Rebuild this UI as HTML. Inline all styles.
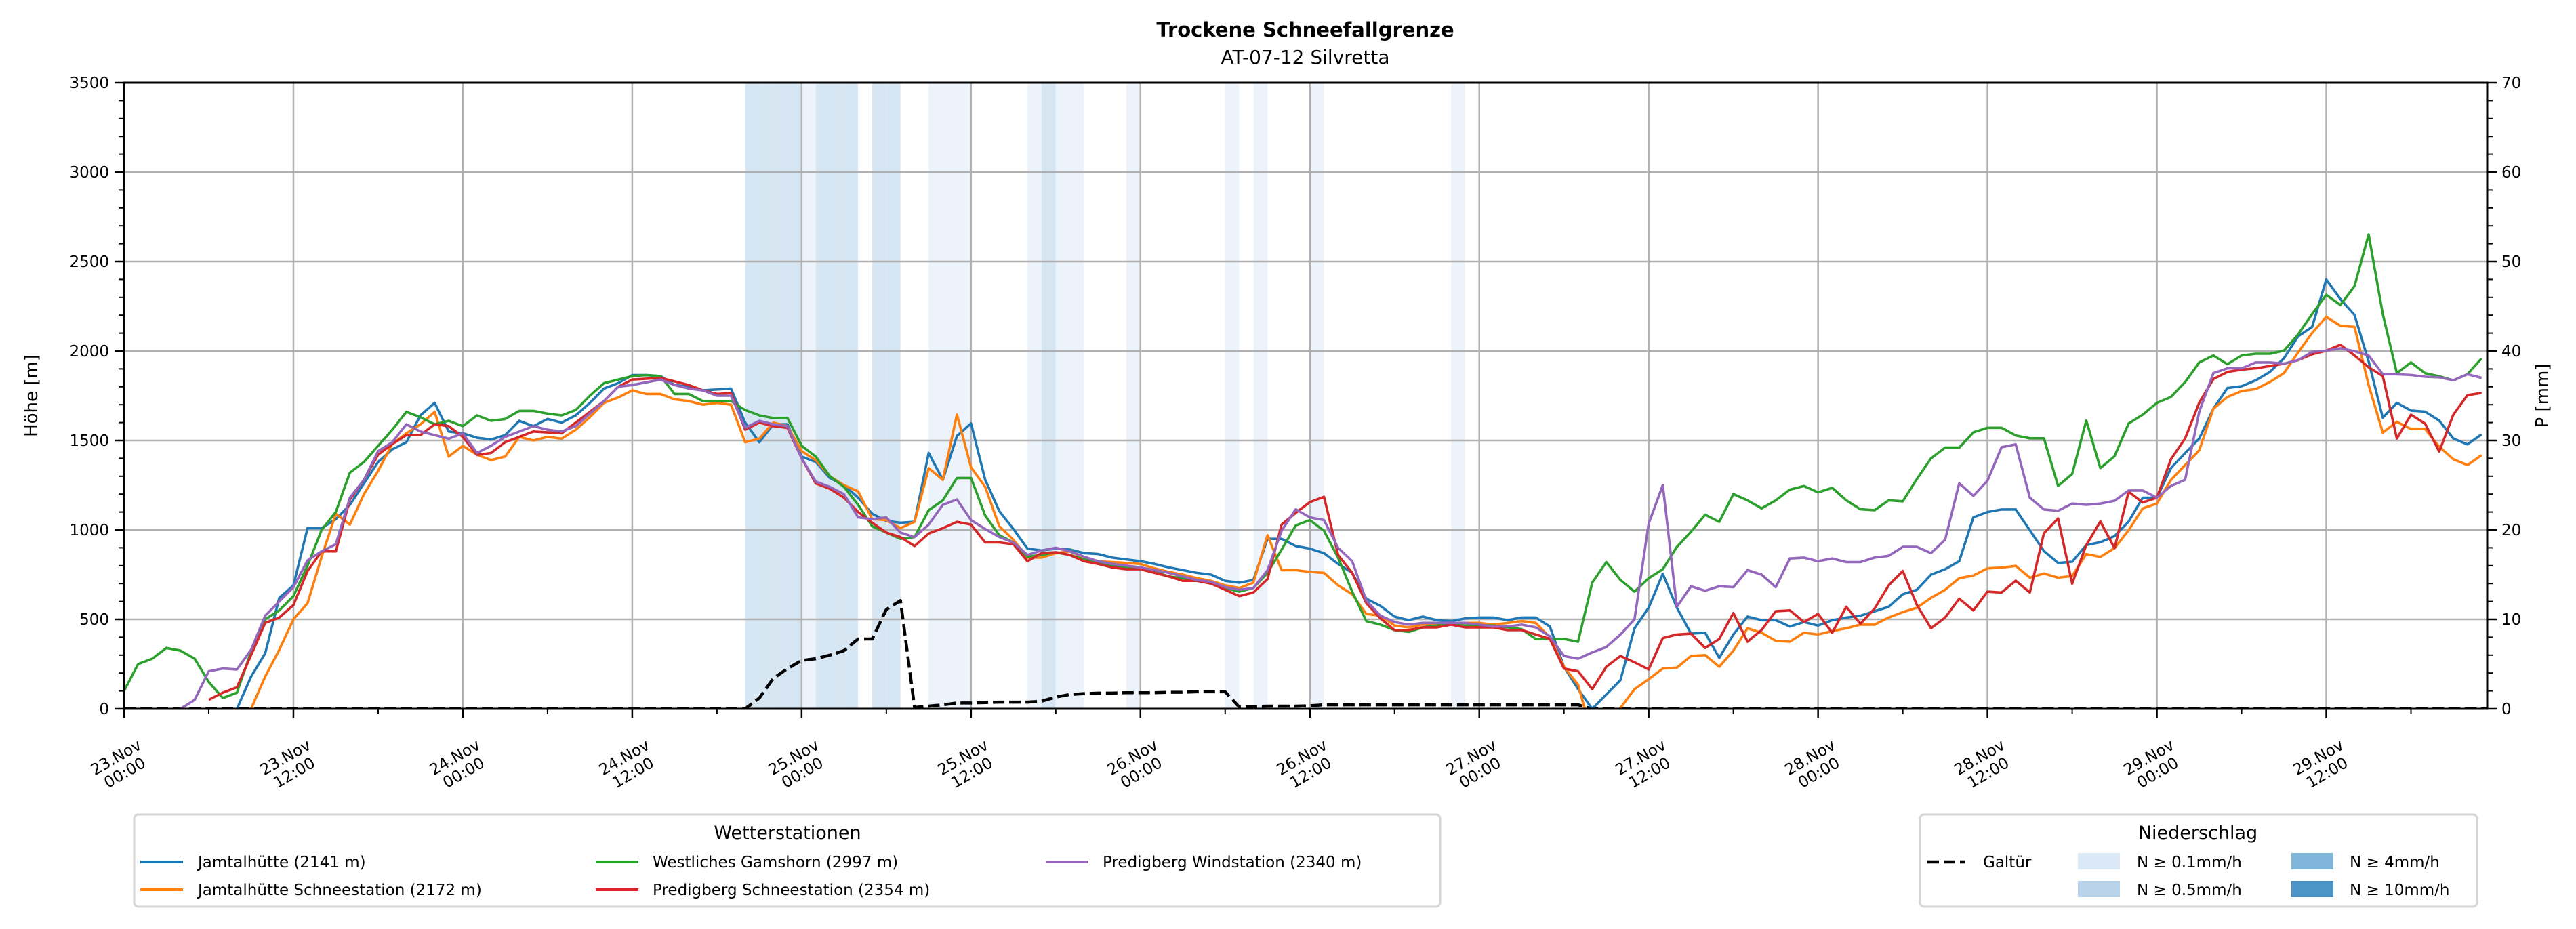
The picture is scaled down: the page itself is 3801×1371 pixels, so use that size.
<!DOCTYPE html>
<html><head><meta charset="utf-8">
<style>
html,body{margin:0;padding:0;background:#fff;}
svg{display:block;font-family:"DejaVu Sans","Liberation Sans",sans-serif;}
</style></head>
<body>
<svg id="chart" width="3801" height="1371" viewBox="0 0 3801 1371" xmlns="http://www.w3.org/2000/svg">
<text x="1926" y="54" text-anchor="middle" font-size="29" font-weight="bold">Trockene Schneefallgrenze</text>
<text x="1926" y="94" text-anchor="middle" font-size="28">AT-07-12 Silvretta</text>
<defs><clipPath id="plotclip"><rect x="183" y="122" width="3487" height="924"/></clipPath></defs>
<g id="bands" clip-path="url(#plotclip)"></g>
<g id="grid"></g>
<g id="series" clip-path="url(#plotclip)"></g>
<g id="axes"></g>
<text transform="translate(55,584) rotate(-90)" text-anchor="middle" font-size="26">Höhe [m]</text>
<text transform="translate(3760,584) rotate(-90)" text-anchor="middle" font-size="26">P [mm]</text>

<g>
<rect x="198" y="1202" width="1927" height="136" rx="6" fill="#fff" stroke="#d6d6d6" stroke-width="3"/>
<text x="1162" y="1238" text-anchor="middle" font-size="27">Wetterstationen</text>
<g><line x1="207" y1="1272" x2="270" y2="1272" stroke="#1f77b4" stroke-width="4"/><text x="292" y="1280" font-size="23">Jamtalhütte (2141 m)</text></g>
<g><line x1="207" y1="1313" x2="270" y2="1313" stroke="#ff7f0e" stroke-width="4"/><text x="292" y="1321" font-size="23">Jamtalhütte Schneestation (2172 m)</text></g>
<g><line x1="879" y1="1272" x2="942" y2="1272" stroke="#2ca02c" stroke-width="4"/><text x="963" y="1280" font-size="23">Westliches Gamshorn (2997 m)</text></g>
<g><line x1="879" y1="1313" x2="942" y2="1313" stroke="#d62728" stroke-width="4"/><text x="963" y="1321" font-size="23">Predigberg Schneestation (2354 m)</text></g>
<g><line x1="1543" y1="1272" x2="1606" y2="1272" stroke="#9467bd" stroke-width="4"/><text x="1627" y="1280" font-size="23">Predigberg Windstation (2340 m)</text></g>
</g>

<g>
<rect x="2833" y="1202" width="822" height="136" rx="6" fill="#fff" stroke="#d6d6d6" stroke-width="3"/>
<text x="3243" y="1238" text-anchor="middle" font-size="27">Niederschlag</text>
<g><line x1="2844" y1="1272" x2="2900" y2="1272" stroke="#000" stroke-width="4.5" stroke-dasharray="17,7"/><text x="2926" y="1280" font-size="23">Galtür</text></g>
<g><rect x="3066" y="1259" width="62" height="24" fill="#dbe9f6"/><text x="3153" y="1280" font-size="23">N ≥ 0.1mm/h</text></g>
<g><rect x="3066" y="1300" width="62" height="24" fill="#b9d3ea"/><text x="3153" y="1321" font-size="23">N ≥ 0.5mm/h</text></g>
<g><rect x="3381" y="1259" width="62" height="24" fill="#80b6da"/><text x="3467" y="1280" font-size="23">N ≥ 4mm/h</text></g>
<g><rect x="3381" y="1300" width="62" height="24" fill="#4a94c8"/><text x="3467" y="1321" font-size="23">N ≥ 10mm/h</text></g>
</g>
</svg>
<script>
const xTickLabels = ["23.Nov|00:00","23.Nov|12:00","24.Nov|00:00","24.Nov|12:00","25.Nov|00:00","25.Nov|12:00","26.Nov|00:00","26.Nov|12:00","27.Nov|00:00","27.Nov|12:00","28.Nov|00:00","28.Nov|12:00","29.Nov|00:00","29.Nov|12:00"];
const yTicks = [0,500,1000,1500,2000,2500,3000,3500];
const y2Ticks = [0,10,20,30,40,50,60,70];
const N = null;
const jamtal = [N,N,N,N,N,N,N,N,0,180,310,620,690,1010,1010,1060,1140,1260,1380,1450,1490,1640,1710,1550,1540,1515,1505,1530,1610,1580,1620,1600,1640,1710,1790,1820,1865,1865,1860,1810,1800,1780,1785,1790,1600,1490,1590,1590,1410,1380,1290,1250,1180,1090,1050,1040,1045,1430,1280,1525,1595,1280,1105,1005,895,885,895,890,870,865,845,835,825,810,790,775,760,750,715,705,720,950,950,910,895,870,810,760,615,575,515,495,515,495,490,505,510,510,495,510,510,460,235,110,0,80,160,450,565,755,565,420,425,285,415,515,495,495,460,485,465,495,510,520,545,570,640,665,750,780,825,1070,1100,1114,1114,998,882,815,822,915,931,965,1047,1180,1180,1346,1429,1511,1677,1793,1803,1836,1883,1959,2082,2135,2400,2290,2201,1942,1627,1710,1667,1661,1611,1511,1478,1534];
const jamtalSchnee = [N,N,N,N,N,N,N,N,N,0,180,330,500,590,850,1090,1030,1200,1330,1480,1540,1590,1660,1410,1470,1420,1390,1410,1520,1500,1520,1510,1560,1630,1710,1740,1780,1760,1760,1730,1720,1700,1710,1700,1490,1510,1600,1580,1440,1390,1300,1250,1215,1060,1055,1010,1045,1345,1280,1645,1350,1240,1020,945,845,845,870,880,845,825,820,815,810,785,765,750,730,715,690,675,705,970,775,775,765,760,690,640,530,520,465,455,470,470,470,480,480,470,480,490,480,400,235,135,-150,-200,5,110,165,225,230,295,300,235,325,450,425,380,375,425,415,435,450,470,470,510,540,565,620,665,730,745,785,789,799,733,756,733,742,865,849,898,998,1120,1147,1280,1362,1445,1677,1743,1776,1787,1826,1876,1992,2101,2191,2141,2135,1810,1544,1604,1564,1564,1465,1395,1362,1418];
const gamshorn = [100,250,280,340,325,280,150,60,90,320,500,550,630,800,1000,1100,1320,1380,1470,1560,1660,1630,1590,1610,1580,1640,1610,1620,1665,1665,1650,1640,1670,1750,1820,1840,1860,1865,1860,1760,1760,1720,1720,1720,1670,1640,1625,1625,1470,1410,1300,1240,1140,1020,985,950,960,1110,1165,1290,1290,1080,970,930,850,860,875,860,835,820,800,790,790,765,740,730,720,700,675,655,675,760,890,1025,1055,995,845,655,490,470,440,430,455,465,470,465,465,465,455,445,390,390,390,375,705,820,720,655,730,780,905,990,1085,1045,1200,1165,1120,1165,1225,1245,1210,1235,1165,1115,1110,1165,1160,1285,1400,1460,1460,1545,1571,1571,1528,1512,1512,1246,1313,1611,1346,1412,1595,1644,1710,1743,1826,1936,1975,1926,1975,1985,1985,2002,2092,2207,2314,2257,2363,2651,2207,1876,1936,1876,1859,1836,1870,1959];
const predigSchnee = [N,N,N,N,N,N,50,90,120,300,480,510,580,770,880,880,1170,1280,1420,1480,1530,1530,1590,1580,1520,1420,1430,1490,1520,1550,1545,1540,1600,1660,1720,1800,1840,1845,1850,1830,1810,1780,1760,1765,1560,1600,1580,1570,1400,1260,1230,1180,1100,1040,985,960,910,980,1010,1045,1030,930,930,920,825,870,875,860,825,810,790,780,780,760,740,715,715,700,665,630,650,725,1030,1095,1155,1185,860,760,590,505,440,440,455,455,470,455,455,455,440,440,415,390,225,210,110,235,295,260,220,395,415,420,340,390,535,375,440,545,550,485,530,425,570,475,560,690,770,580,450,510,615,550,655,650,716,650,981,1064,700,915,1047,898,1213,1153,1180,1396,1511,1711,1843,1883,1896,1903,1916,1929,1949,1982,2002,2035,1975,1909,1860,1511,1644,1594,1438,1644,1753,1766];
const predigWind = [N,N,N,N,0,50,210,225,220,330,520,600,680,830,880,920,1180,1280,1440,1490,1590,1550,1530,1510,1540,1430,1470,1520,1550,1580,1560,1550,1580,1650,1720,1800,1810,1825,1840,1810,1790,1780,1750,1750,1570,1610,1590,1580,1400,1270,1240,1200,1070,1060,1070,985,960,1030,1140,1170,1055,1005,960,930,860,885,900,880,850,825,810,800,790,775,760,740,720,710,680,665,675,775,995,1115,1070,1055,900,825,605,520,485,470,480,480,480,480,470,460,460,470,455,405,295,280,315,345,415,500,1035,1250,570,685,660,685,680,775,750,680,840,845,825,840,820,820,845,855,905,905,870,945,1260,1190,1275,1462,1478,1180,1114,1107,1147,1140,1147,1163,1220,1220,1180,1246,1280,1661,1876,1903,1903,1936,1936,1929,1949,1995,2002,2015,1999,1975,1870,1870,1866,1856,1853,1836,1870,1850];
const galtuer = [0,0,0,0,0,0,0,0,0,0,0,0,0,0,0,0,0,0,0,0,0,0,0,0,0,0,0,0,0,0,0,0,0,0,0,0,0,0,0,0,0,0,0,0,0,1.2,3.4,4.5,5.4,5.6,6.0,6.5,7.8,7.8,11.1,12.1,0.15,0.3,0.45,0.65,0.65,0.7,0.75,0.75,0.75,0.85,1.3,1.6,1.7,1.75,1.75,1.8,1.8,1.8,1.85,1.85,1.9,1.9,1.9,0.2,0.25,0.3,0.3,0.3,0.35,0.45,0.45,0.45,0.45,0.45,0.45,0.45,0.45,0.45,0.45,0.45,0.45,0.45,0.45,0.45,0.45,0.45,0.45,0.45,0,0,0,0,0,0,0,0,0,0,0,0,0,0,0,0,0,0,0,0,0,0,0,0,0,0,0,0,0,0,0,0,0,0,0,0,0,0,0,0,0,0,0,0,0,0,0,0,0,0,0,0,0,0,0,0,0,0,0,0,0,0,0,0,0,0,0];
const precipHours = [44,45,46,47,48,49,50,51,53,54,57,58,59,64,65,66,67,71,78,80,84,94];
const precipLevels = [2,2,2,2,1,2,2,2,2,2,1,1,1,1,2,1,1,1,1,1,1,1];

const NS='http://www.w3.org/2000/svg';
const X0=183,X1=3670,Y0=1046,Y1=122,HMAX=167.4;
const xs=h=>X0+(h/HMAX)*(X1-X0);
const ys=m=>Y0-(m/3500)*(Y0-Y1);
const ys2=p=>Y0-(p/70)*(Y0-Y1);
function mk(tag,attrs,parent){const e=document.createElementNS(NS,tag);for(const k in attrs)e.setAttribute(k,attrs[k]);parent.appendChild(e);return e;}
const bands=document.getElementById('bands'),grid=document.getElementById('grid'),series=document.getElementById('series'),axes=document.getElementById('axes');

precipHours.forEach((h,i)=>{
  const r=mk('rect',{x:xs(h),y:Y1,width:xs(h+1)-xs(h),height:Y0-Y1,fill:precipLevels[i]===2?'#d7e6f3':'#edf3fa'},bands);
  
  
});
// grid
xTickLabels.forEach((l,i)=>{const x=xs(i*12);mk('line',{x1:x,y1:Y1,x2:x,y2:Y0,stroke:'#b0b0b0','stroke-width':2.5},grid);});
yTicks.forEach(v=>{const y=ys(v);mk('line',{x1:X0,y1:y,x2:X1,y2:y,stroke:'#b0b0b0','stroke-width':2.5},grid);});
// series
function line(data,scale,color,name,dash){
  let d='',pen=false;
  data.forEach((v,h)=>{if(v===null){pen=false;return;}d+=(pen?'L':'M')+xs(h).toFixed(1)+','+scale(v).toFixed(1);pen=true;});
  const p=mk('path',{d:d,fill:'none',stroke:color,'stroke-width':dash?4.5:3.6,'stroke-linejoin':'round'},series);
  if(dash)p.setAttribute('stroke-dasharray','17,7');
  
  
}
line(galtuer,ys2,'#000','galtuer-line',true);
line(jamtal,ys,'#1f77b4','jamtalhuette-line');
line(jamtalSchnee,ys,'#ff7f0e','jamtal-schneestation-line');
line(gamshorn,ys,'#2ca02c','gamshorn-line');
line(predigSchnee,ys,'#d62728','predigberg-schneestation-line');
line(predigWind,ys,'#9467bd','predigberg-wind-line');
// axes frame
mk('rect',{x:X0,y:Y1,width:X1-X0,height:Y0-Y1,fill:'none',stroke:'#000','stroke-width':3},axes);
// x ticks
for(let h=0;h<=HMAX;h+=6){const x=xs(h);const major=h%12===0;mk('line',{x1:x,y1:Y0,x2:x,y2:Y0+(major?14:8),stroke:'#000','stroke-width':major?2.5:2},axes);}
xTickLabels.forEach((l,i)=>{
  const [a,b]=l.split('|');const x=xs(i*12);
  const t=mk('text',{transform:`translate(${x-6},1128) rotate(-30)`,'text-anchor':'middle','font-size':23},axes);
  
  
  mk('tspan',{x:0,y:-4},t).textContent=a;
  mk('tspan',{x:0,y:22},t).textContent=b;
});
// y ticks
for(let v=0;v<=3500;v+=100){const y=ys(v);const major=v%500===0;mk('line',{x1:X0-(major?14:8),y1:y,x2:X0,y2:y,stroke:'#000','stroke-width':major?2.5:2},axes);}
yTicks.forEach(v=>{const t=mk('text',{x:X0-22,y:ys(v)+8,'text-anchor':'end','font-size':23},axes);t.textContent=v;
  
  });
for(let p=0;p<=70;p+=2){const y=ys2(p);const major=p%10===0;mk('line',{x1:X1,y1:y,x2:X1+(major?14:8),y2:y,stroke:'#000','stroke-width':major?2.5:2},axes);}
y2Ticks.forEach(p=>{const t=mk('text',{x:X1+21,y:ys2(p)+8,'text-anchor':'start','font-size':23},axes);t.textContent=p;
  
  });
</script>
</body></html>
